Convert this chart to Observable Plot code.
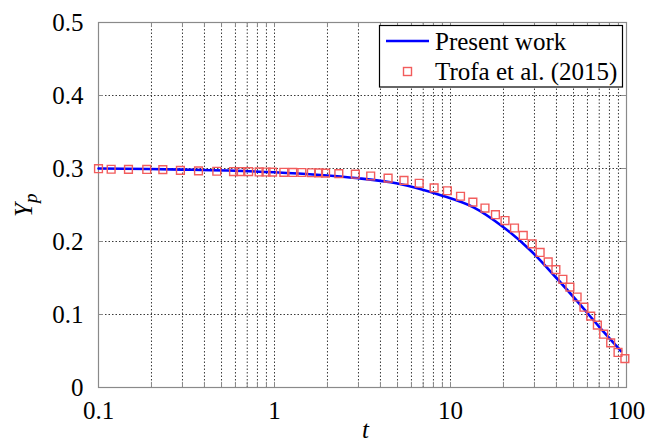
<!DOCTYPE html>
<html>
<head>
<meta charset="utf-8">
<script src="https://cdn.jsdelivr.net/npm/d3@7"></script>
<script src="https://cdn.jsdelivr.net/npm/@observablehq/plot@0.6"></script>
<style>
  html, body { margin: 0; padding: 0; background: #fff; }
  #wrap { position: relative; width: 645px; height: 448px; overflow: hidden; }
  #legend { position: absolute; left: 0; top: 0; pointer-events: none; }
</style>
</head>
<body>
<div id="wrap"></div>
<script>
// ---- Data ----
// Present work (solid blue line)
const presentT = [0.1, 0.3, 1, 3, 5, 8.8, 13.6, 20, 28.5, 40, 55, 70, 93];
const presentY = [0.3000, 0.2985, 0.2948, 0.2866, 0.2795, 0.2635, 0.2465, 0.2196, 0.1877, 0.1500, 0.1125, 0.0830, 0.0500];
// Trofa et al. (2015) (open red squares)
const trofaT = [0.100, 0.118, 0.148, 0.188, 0.232, 0.292, 0.370, 0.470, 0.585, 0.636, 0.713, 0.818, 0.895, 0.975, 1.13, 1.27, 1.43, 1.62, 1.78, 1.95, 2.32, 2.88, 3.52, 4.42, 5.44, 6.64, 8.07, 9.6, 11.4, 13.4, 15.7, 18.0, 20.4, 23.1, 25.9, 29.1, 32.3, 35.9, 39.7, 43.5, 47.7, 52.4, 57.3, 62.6, 68.3, 74.2, 81.3, 89.5, 97.9];
const trofaY = [0.2997, 0.2990, 0.2988, 0.2987, 0.2985, 0.2975, 0.2968, 0.2962, 0.2958, 0.2958, 0.2957, 0.2953, 0.2952, 0.2951, 0.2948, 0.2946, 0.2945, 0.2942, 0.2940, 0.2936, 0.2930, 0.2922, 0.2897, 0.2868, 0.2837, 0.2798, 0.2735, 0.2695, 0.2620, 0.2540, 0.2458, 0.2367, 0.2287, 0.2185, 0.2083, 0.1967, 0.1850, 0.1720, 0.1615, 0.1482, 0.1375, 0.1240, 0.1100, 0.0978, 0.0855, 0.0730, 0.0612, 0.0480, 0.0395];
// Ticks
const xTickValues = [0.1, 1, 10, 100];
const xTickLabels = ["0.1", "1", "10", "100"];
const yTickValues = [0, 0.1, 0.2, 0.3, 0.4, 0.5];
const yTickLabels = ["0", "0.1", "0.2", "0.3", "0.4", "0.5"];
const xGridValues = [0.2, 0.3, 0.4, 0.5, 0.6, 0.7, 0.8, 0.9, 1, 2, 3, 4, 5, 6, 7, 8, 9, 10, 20, 30, 40, 50, 60, 70, 80, 90];
const yGridValues = [0.1, 0.2, 0.3, 0.4];
const seriesNames = ["Present work", "Trofa et al. (2015)"];
const xLabel = "t";
const yLabelMain = "Y";
const yLabelSub = "p";

// ---- Build tables ----
const present = presentT.map((t, i) => ({t, y: presentY[i]}));
const trofa = trofaT.map((t, i) => ({t, y: trofaY[i]}));

const FONT = "'Liberation Serif', 'Times New Roman', Times, serif";
const gridStyle = {stroke: "#3a3a3a", strokeOpacity: 1, strokeWidth: 1, strokeDasharray: "1.5,2"};
const tickCol = "#8a8a8a";

const chart = Plot.plot({
  width: 645,
  height: 448,
  marginLeft: 98,
  marginRight: 19,
  marginTop: 22,
  marginBottom: 61,
  style: {fontFamily: FONT, fontSize: "25px", background: "#fff", color: "#000", overflow: "visible"},
  x: {type: "log", domain: [0.1, 100]},
  y: {domain: [0, 0.5]},
  marks: [
    Plot.gridX(xGridValues, gridStyle),
    Plot.gridY(yGridValues, gridStyle),
    // inward tick marks (MATLAB style)
    Plot.ruleX(xGridValues, {y1: 0, y2: 0.007, stroke: tickCol}),
    Plot.ruleX(xGridValues, {y1: 0.493, y2: 0.5, stroke: tickCol}),
    Plot.ruleY(yGridValues, {x1: 0.1, x2: 0.1068, stroke: tickCol}),
    Plot.ruleY(yGridValues, {x1: 93.6, x2: 100, stroke: tickCol}),
    Plot.frame({stroke: "#8a8a8a", strokeWidth: 1.2}),
    Plot.axisX(xTickValues, {tickSize: 0, tickPadding: 14, tickFormat: d => xTickLabels[xTickValues.indexOf(d)], fontSize: 25, fontFamily: FONT, label: null}),
    Plot.axisY(yTickValues, {tickSize: 0, tickPadding: 15, tickFormat: d => yTickLabels[yTickValues.indexOf(d)], fontSize: 25, fontFamily: FONT, label: null}),
    Plot.line(present, {x: "t", y: "y", stroke: "#0000ff", strokeWidth: 2.6, curve: "catmull-rom"}),
    Plot.dot(trofa, {x: "t", y: "y", symbol: "square", r: 4.4, stroke: "#f25c5c", strokeWidth: 1.4, fill: "none"}),
    Plot.text([xLabel], {frameAnchor: "bottom", dy: 50, dx: 3, fontStyle: "italic", fontSize: 25, fontFamily: FONT}),
    Plot.text([yLabelMain], {frameAnchor: "left", dx: -75, dy: 12, rotate: -90, fontStyle: "italic", fontSize: 25, fontFamily: FONT, className: "ylab"})
  ]
});

document.getElementById("wrap").appendChild(chart);

// subscript for the y-axis label
d3.select(chart).selectAll(".ylab text").each(function() {
  const t = d3.select(this);
  t.text(null);
  t.append("tspan").text(yLabelMain);
  t.append("tspan").attr("font-size", 19).attr("dy", "0.3em").text(yLabelSub);
});

// ---- Legend (overlay) ----
const leg = d3.select("#wrap").append("svg")
  .attr("id", "legend")
  .attr("width", 645).attr("height", 448)
  .style("font-family", FONT).style("font-size", "25px");
leg.append("rect").attr("x", 379.5).attr("y", 25.5).attr("width", 243).attr("height", 61.5)
  .attr("fill", "#fff").attr("stroke", "#000").attr("stroke-width", 1.2);
leg.append("line").attr("x1", 386).attr("x2", 429).attr("y1", 41).attr("y2", 41)
  .attr("stroke", "#0000ff").attr("stroke-width", 2.6);
leg.append("text").attr("x", 435).attr("y", 49.5).text(seriesNames[0]);
leg.append("rect").attr("x", 403.5).attr("y", 67.5).attr("width", 8).attr("height", 8)
  .attr("fill", "none").attr("stroke", "#f25c5c").attr("stroke-width", 1.4);
leg.append("text").attr("x", 435).attr("y", 80).text(seriesNames[1]);
</script>
</body>
</html>
